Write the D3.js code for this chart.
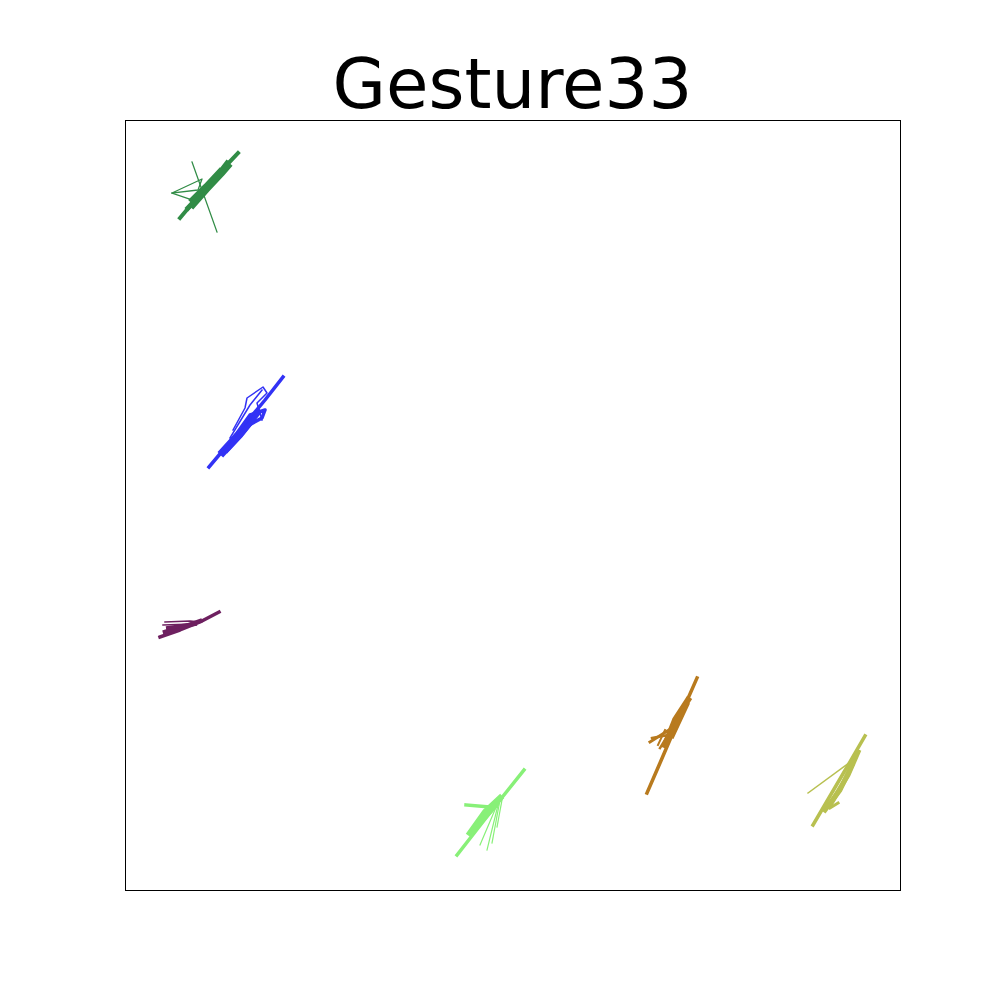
<!DOCTYPE html>
<html>
<head>
<meta charset="utf-8">
<script src="https://cdn.jsdelivr.net/npm/d3@7"></script>
<style>
  html, body { margin: 0; padding: 0; background: #fff; }
  svg { display: block; }
</style>
</head>
<body>
<script>
// ---- Data (trajectory strokes per gesture cluster, in data units) ----
const titleText = "Gesture33";
const clusterNames = ["g1", "g2", "g3", "g4", "g5", "g6"];

const greenStrokes = [
  [[55,672],[65,684],[80,700],[95,718],[113,737]],
  [[63,682],[78,698],[92,714],[102,727]],
  [[68,684],[82,700],[97,716],[104,724]],
  [[66,690],[80,704],[95,720]],
  [[67,728],[92,658]],
  [[47,697],[77,711],[73,700],[47,697]],
  [[47,697],[67,690]]
];
const blueStrokes = [
  [[84,423],[100,442],[120,466],[140,490],[158,513]],
  [[95,438],[115,460],[137,472],[140,480],[125,475],[107,450]],
  [[98,436],[118,458],[134,478]],
  [[102,440],[116,455],[128,470]],
  [[108,460],[120,482],[122,492],[138,503],[142,497],[132,487],[137,470]],
  [[105,452],[125,485],[137,500]]
];
const purpleStrokes = [
  [[35,253],[55,260],[75,268],[94,278]],
  [[40,258],[58,263],[75,269]],
  [[43,262],[70,266]],
  [[40,268],[65,269],[75,268]],
  [[38,265],[67,266]]
];
const lightGreenStrokes = [
  [[332,35],[350,58],[375,90],[399,120]],
  [[341,85],[365,83],[375,90]],
  [[345,57],[360,78],[375,92]],
  [[353,65],[371,85]],
  [[372,85],[355,45]],
  [[373,85],[362,40]],
  [[375,90],[367,47]],
  [[377,90],[372,63]]
];
const orangeStrokes = [
  [[522,97],[535,127],[550,162],[572,212]],
  [[540,145],[550,170],[563,190]],
  [[547,155],[561,185]],
  [[525,148],[547,162]],
  [[527,152],[543,155],[535,142]],
  [[533,145],[540,160]]
];
const oliveStrokes = [
  [[688,65],[705,94],[722,123],[740,154]],
  [[683,97],[728,130]],
  [[700,80],[715,100],[727,125]],
  [[705,85],[723,115],[733,138]],
  [[705,82],[713,87]]
];

// ---- Styles (kept apart from the data) ----
const clusterColors = ["#318c46", "#3232f5", "#6e2060", "#88f078", "#b87a1e", "#b8c050"];
const strokeWidths = {
  g1: [4, 5, 5, 4, 1.3, 1.3, 1.3],
  g2: [3.5, 3.5, 5, 5, 1.5, 1.5],
  g3: [3.5, 4.5, 4, 1.5, 1.5],
  g4: [3.5, 3.5, 6, 5, 1.2, 1.2, 1.2, 1.2],
  g5: [3.5, 6, 6, 3, 2.5, 2],
  g6: [3.5, 1.5, 5, 5, 3]
};
const clusters = [greenStrokes, blueStrokes, purpleStrokes, lightGreenStrokes, orangeStrokes, oliveStrokes];

// ---- Chart ----
const W = 1000, H = 1000;
const box = {left: 125, right: 900, top: 120, bottom: 890};

const svg = d3.select("body").append("svg").attr("width", W).attr("height", H);

const x = d3.scaleLinear().domain([0, 775]).range([box.left, box.right]);
const y = d3.scaleLinear().domain([0, 770]).range([box.bottom, box.top]);

const line = d3.line().x(d => x(d[0])).y(d => y(d[1]));

clusters.forEach((strokes, ci) => {
  const g = svg.append("g");
  const name = clusterNames[ci];
  g.selectAll("path")
    .data(strokes)
    .join("path")
    .attr("d", line)
    .attr("fill", "none")
    .attr("stroke", clusterColors[ci])
    .attr("stroke-width", (d, i) => strokeWidths[name][i])
    .attr("stroke-linecap", "square")
    .attr("stroke-linejoin", "round");
});

svg.append("rect")
  .attr("x", box.left + 0.5).attr("y", box.top + 0.5)
  .attr("width", box.right - box.left).attr("height", box.bottom - box.top)
  .attr("fill", "none").attr("stroke", "#000").attr("stroke-width", 1);

svg.append("text")
  .attr("x", (box.left + box.right) / 2)
  .attr("y", 108)
  .attr("text-anchor", "middle")
  .attr("font-family", "DejaVu Sans")
  .attr("font-size", 69)
  .attr("fill", "#000")
  .text(titleText);
</script>
</body>
</html>
